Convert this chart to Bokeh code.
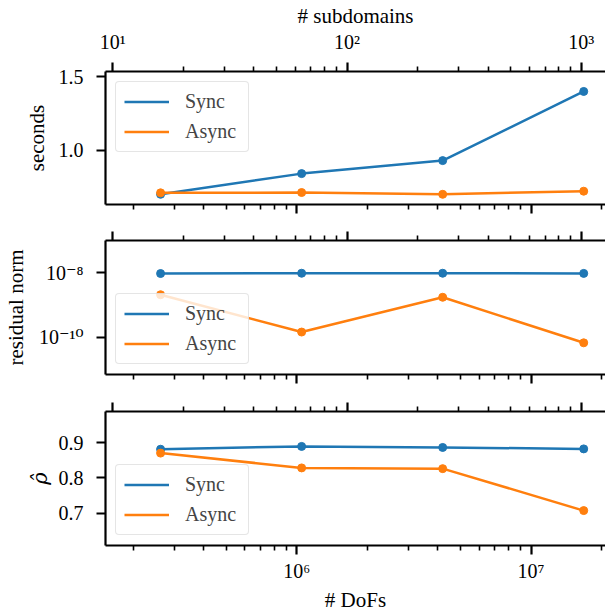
from bokeh.plotting import figure
from bokeh.models import (Range1d, LogAxis, LinearAxis, FixedTicker, CustomJSTickFormatter,
                          PrintfTickFormatter, Legend, LegendItem)
from bokeh.layouts import column
from bokeh.embed import file_html
from bokeh.resources import INLINE

# ---- data ----
subdomains = [16, 64, 256, 1024]
dofs = [262144, 1048576, 4194304, 16777216]
time_sync = [0.703, 0.843, 0.931, 1.399]
time_async = [0.713, 0.715, 0.703, 0.724]
res_sync = [9.6e-9, 9.8e-9, 9.8e-9, 9.7e-9]
res_async = [2.1e-9, 1.45e-10, 1.75e-9, 6.7e-11]
rho_sync = [0.881, 0.889, 0.886, 0.882]
rho_async = [0.870, 0.828, 0.826, 0.707]
series_labels = ["Sync", "Async"]
time_ticks = [1.0, 1.5]
res_ticks = [1e-10, 1e-8]
rho_ticks = [0.7, 0.8, 0.9]

FONT = "Liberation Serif"
TICK_FONT = "Liberation Serif, DejaVu Serif"
FS = "20px"
LFS = "21px"
BLUE = "#1f77b4"
ORANGE = "#ff7f0e"
R = dofs[0] / subdomains[0]          # DoFs per subdomain
X_LO, X_HI = 10 ** 5.1834, 10 ** 7.3177

dof_major = [10.0 ** k for k in range(5, 9)]
dof_minor = [m * 10.0 ** k for k in range(5, 8) for m in range(2, 10)]
sub_major = [R * 10.0 ** k for k in range(0, 5)]
sub_minor = [R * m * 10.0 ** k for k in range(0, 4) for m in range(2, 10)]

SUP_JS = """
const sup = {"-":"\\u207B","0":"\\u2070","1":"\\u00B9","2":"\\u00B2","3":"\\u00B3",
             "4":"\\u2074","5":"\\u2075","6":"\\u2076","7":"\\u2077","8":"\\u2078","9":"\\u2079"};
const e = Math.round(Math.log10(tick / scale));
return "10" + String(e).split("").map(c => sup[c]).join("");
"""


def sup_fmt(scale):
    return CustomJSTickFormatter(args=dict(scale=scale), code=SUP_JS)


def style(ax, labels=True):
    ax.axis_line_width = 2.2
    ax.axis_line_color = "black"
    ax.major_tick_out = 9
    ax.major_tick_in = 0
    ax.major_tick_line_width = 2.2
    ax.minor_tick_out = 5
    ax.minor_tick_in = 0
    ax.minor_tick_line_width = 1.6
    ax.major_label_text_font = TICK_FONT
    ax.major_label_text_font_size = FS
    ax.major_label_text_color = "black" if labels else None
    ax.axis_label_text_font = FONT
    ax.axis_label_text_font_size = LFS
    ax.axis_label_text_font_style = "normal"
    ax.axis_label_text_color = "black"
    if not labels:
        ax.major_label_standoff = 0


def make_panel(height, top, bottom, yr, ylog, top_labels, bottom_labels):
    p = figure(width=605, height=height, x_axis_type="log",
               y_axis_type="log" if ylog else "linear",
               x_axis_location=None, y_axis_location=None,
               x_range=Range1d(X_LO, X_HI), y_range=Range1d(*yr),
               output_backend="svg", toolbar_location=None,
               min_border_left=105, min_border_right=0,
               min_border_top=top, min_border_bottom=bottom)
    p.outline_line_color = None
    p.background_fill_color = "white"
    p.border_fill_color = "white"
    p.grid.visible = False

    ax_top = LogAxis(ticker=FixedTicker(ticks=sub_major, minor_ticks=sub_minor),
                     formatter=sup_fmt(R))
    style(ax_top, top_labels)
    if top_labels:
        ax_top.axis_label = "# subdomains"
        ax_top.major_label_standoff = 10
        ax_top.axis_label_standoff = 0
    p.add_layout(ax_top, "above")

    ax_bot = LogAxis(ticker=FixedTicker(ticks=dof_major, minor_ticks=dof_minor),
                     formatter=sup_fmt(1.0))
    style(ax_bot, bottom_labels)
    if bottom_labels:
        ax_bot.axis_label = "# DoFs"
        ax_bot.major_label_standoff = 5
        ax_bot.axis_label_standoff = 3
    p.add_layout(ax_bot, "below")
    return p


def add_series(p, ys, ya, loc):
    l1 = p.line(dofs, ys, color=BLUE, line_width=2.5)
    p.scatter(dofs, ys, size=8, color=BLUE)
    l2 = p.line(dofs, ya, color=ORANGE, line_width=2.5)
    p.scatter(dofs, ya, size=8, color=ORANGE)
    lg = Legend(items=[LegendItem(label=series_labels[0], renderers=[l1]),
                       LegendItem(label=series_labels[1], renderers=[l2])],
                location=loc, margin=10, padding=8, spacing=7,
                glyph_width=45, glyph_height=23, label_standoff=16,
                label_height=23, label_width=55,
                label_text_font=FONT, label_text_font_size=FS,
                border_line_color="#cccccc", border_line_width=1.8,
                background_fill_color="white", background_fill_alpha=0.8)
    if "border_radius" in Legend.properties():
        lg.border_radius = 4
    p.add_layout(lg)


def left_axis(p, ticks, fmt, label, standoff, italic=False, log=False, font=FONT):
    ax = (LogAxis if log else LinearAxis)(ticker=FixedTicker(ticks=ticks, minor_ticks=[]),
                                          formatter=fmt)
    style(ax)
    ax.axis_label = label
    ax.major_label_standoff = 13
    ax.axis_label_standoff = standoff
    ax.axis_label_text_font = font
    if italic:
        ax.axis_label_text_font_style = "italic"
    p.add_layout(ax, "left")


# top panel: time
p1 = make_panel(222, 70, 18, (0.634, 1.534), False, True, False)
add_series(p1, time_sync, time_async, "top_left")
left_axis(p1, time_ticks, PrintfTickFormatter(format="%.1f"), "seconds", 7)

# middle panel: residual norm
p2 = make_panel(171, 18, 19, (10 ** -11.16, 10 ** -6.99), True, False, False)
add_series(p2, res_sync, res_async, "bottom_left")
left_axis(p2, res_ticks, sup_fmt(1.0), "residual norm", 8, log=True)

# bottom panel: rho
p3 = make_panel(221, 18, 68, (0.608, 0.988), False, False, True)
add_series(p3, rho_sync, rho_async, "bottom_left")
left_axis(p3, rho_ticks, PrintfTickFormatter(format="%.1f"), "\u03c1\u0302", 4,
          italic=True, font="DejaVu Serif")

layout = column(p1, p2, p3, spacing=0)
open("out.html", "w").write(file_html(layout, INLINE))
